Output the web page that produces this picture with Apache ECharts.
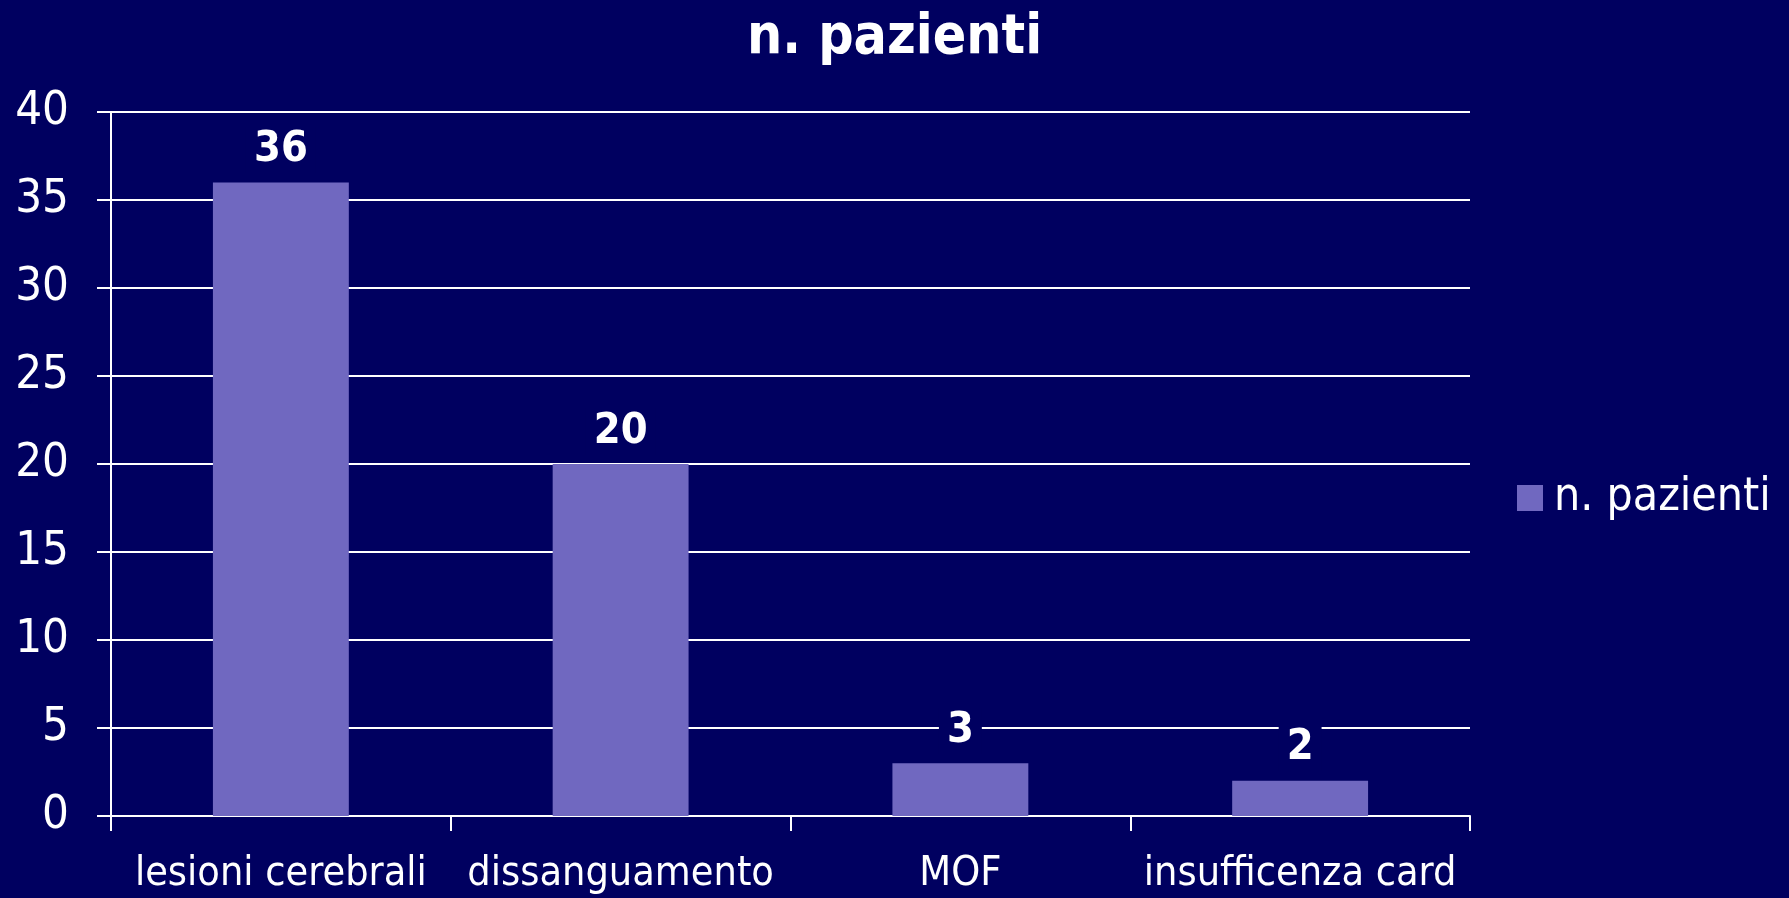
<!DOCTYPE html>
<html>
<head>
<meta charset="utf-8">
<script src="https://cdn.jsdelivr.net/npm/echarts@6/dist/echarts.min.js"></script>
<style>
  html, body { margin: 0; padding: 0; background: #000060; }
  #chart { width: 1789px; height: 898px; }
</style>
</head>
<body>
<div id="chart"></div>
<script>
var categories = ['lesioni cerebrali', 'dissanguamento', 'MOF', 'insufficenza card'];
var pazienti = [36, 20, 3, 2];
var seriesName = 'n. pazienti';

var font = "'DejaVu Sans Condensed', 'DejaVu Sans', sans-serif";
var bg = '#000060';

var dom = document.getElementById('chart');
var myChart = echarts.init(dom);
var option = {
    backgroundColor: bg,
    animation: false,
    title: {
        text: 'n. pazienti',
        left: 'center',
        top: 6,
        textStyle: { color: '#fff', fontFamily: font, fontWeight: 'bold', fontSize: 55 }
    },
    legend: {
        data: [seriesName],
        orient: 'vertical',
        left: 1512,
        top: 470,
        itemWidth: 26,
        itemHeight: 26,
        itemGap: 10,
        icon: 'rect',
        textStyle: { color: '#fff', fontFamily: font, fontSize: 46, padding: [0, 0, 0, 6] }
    },
    grid: { left: 111, right: 319, top: 112, bottom: 82 },
    xAxis: {
        type: 'category',
        data: categories,
        axisLine: { lineStyle: { color: '#fff', width: 2 } },
        axisTick: { show: true, length: 15, lineStyle: { color: '#fff', width: 2 } },
        axisLabel: { color: '#fff', fontFamily: font, fontSize: 41, margin: 38, interval: 0 }
    },
    yAxis: {
        type: 'value',
        min: 0,
        max: 40,
        interval: 5,
        axisLine: { show: true, lineStyle: { color: '#fff', width: 2 } },
        axisTick: { show: true, length: 14, lineStyle: { color: '#fff', width: 2 } },
        axisLabel: { color: '#fff', fontFamily: font, fontSize: 47, margin: 42 },
        splitLine: { lineStyle: { color: '#fff', width: 2 } }
    },
    series: [{
        name: seriesName,
        type: 'bar',
        data: pazienti,
        barWidth: '40%',
        itemStyle: { color: '#7068C0' },
        label: {
            show: true,
            position: 'top',
            distance: 9,
            color: '#fff',
            fontFamily: font,
            fontWeight: 'bold',
            fontSize: 43,
            backgroundColor: bg,
            padding: [2, 8]
        }
    }]
};
myChart.setOption(option);
</script>
</body>
</html>
